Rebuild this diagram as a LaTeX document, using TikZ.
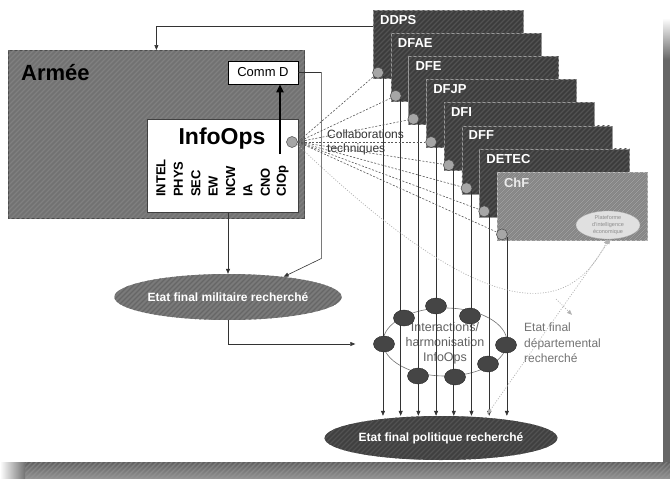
\documentclass[tikz,border=0pt]{standalone}
\usepackage{fontspec}
\setmainfont{Liberation Sans}
\usetikzlibrary{arrows.meta,calc,shapes.geometric,patterns}
\pgfdeclarepatternformonly{hatchx}{\pgfqpoint{-1pt}{-1pt}}{\pgfqpoint{6pt}{6pt}}{\pgfqpoint{5pt}{5pt}}{\pgfsetlinewidth{1.4pt}\pgfpathmoveto{\pgfqpoint{0pt}{0pt}}\pgfpathlineto{\pgfqpoint{5.1pt}{5.1pt}}\pgfusepath{stroke}}
\definecolor{armfill}{HTML}{727272}
\definecolor{deptfill}{HTML}{3C3C3C}
\definecolor{chffill}{HTML}{8A8A8A}
\definecolor{milfill}{HTML}{7A7A7A}
\definecolor{polfill}{HTML}{404040}
\definecolor{ringfill}{HTML}{454545}
\begin{document}
\begin{tikzpicture}[x=1pt,y=-1pt,
  hatch/.style={postaction={pattern=hatchx, pattern color=#1}},
  conn/.style={draw=black!80, line width=0.6pt},
  tip/.style={-{Triangle[length=5pt,width=4pt]}},
  dashln/.style={draw=black!65, line width=0.6pt, dash pattern=on 2pt off 1.6pt},
  lightdot/.style={draw=black!30, line width=0.7pt, dash pattern=on 1pt off 1.6pt},
  deptbox/.style={rectangle, draw=black!40, line width=0.7pt, fill=deptfill, hatch=black!68, minimum width=150pt, minimum height=68pt, anchor=north west, inner sep=0pt},
  deptlbl/.style={text=white, font=\bfseries\fontsize{13}{15}\selectfont, anchor=west, inner sep=0pt},
  port/.style={circle, draw=black!70, fill=black!35, line width=0.5pt, minimum size=11pt, inner sep=0pt},
  ringell/.style={ellipse, fill=ringfill, draw=black!85, line width=0.4pt, minimum width=21pt, minimum height=16pt, inner sep=0pt},
  vlbl/.style={rotate=90, anchor=west, inner sep=0pt, font=\bfseries\fontsize{13}{15}\selectfont},
  goal/.style={ellipse, minimum width=184pt, minimum height=46pt, inner sep=0pt, text=white, font=\bfseries\fontsize{12}{14}\selectfont}
]
\useasboundingbox (0,0) rectangle (670,479);
\fill[white] (0,0) rectangle (670,479);
% slide shadow
\shade[top color=white, bottom color=black!60] (663,18) rectangle (670,60);
\fill[black!60] (663,60) rectangle (670,462);
\shade[top color=black!62, bottom color=black!42] (25,462) rectangle (670,479);
\fill[pattern=hatchx, pattern color=black!40, opacity=0.5] (25,462) rectangle (670,479);
\shade[left color=white, right color=black!55] (0,462) rectangle (25,479);

% Armee block
\node[rectangle, draw=black!70, line width=0.8pt, fill=armfill, hatch=black!50, minimum width=296pt, minimum height=168pt, anchor=north west, inner sep=0pt] (armee) at (8,50) {};
\node[anchor=west, inner sep=0pt, font=\bfseries\fontsize{22}{24}\selectfont] (armlbl) at (21,73) {Armée};
\node[rectangle, draw=black, line width=0.7pt, fill=white, minimum width=70pt, minimum height=23pt, inner sep=0pt, font=\fontsize{13}{15}\selectfont] (commd) at (263,72.5) {Comm D};
\node[rectangle, draw=black!75, line width=0.8pt, fill=white, minimum width=151pt, minimum height=93pt, anchor=north west, inner sep=0pt] (infoops) at (147,119) {};
\node[inner sep=0pt, font=\bfseries\fontsize{23}{25}\selectfont] (iolbl) at (222,139) {InfoOps};
\foreach \t [count=\n from 0] in {INTEL,PHYS,SEC,EW,NCW,IA,CNO,CIOp}{
  \node[vlbl] (v\n) at (161+17.4*\n,197) {\t};
}
\node[port] (ic) at (292,142) {};
\coordinate (ta) at (280,154);
\draw[line width=2.2pt, -{Triangle[length=8pt,width=7pt]}] (ta) -- (ta |- commd.south);

% goal ellipses
\node[goal, fill=milfill, hatch=black!60] (mil) at (228,297) {Etat final militaire recherché};
\node[goal, fill=polfill, hatch=black!68, minimum height=44pt] (pol) at (441,438) {Etat final politique recherché};

% departments
\foreach \i/\t in {1/DDPS,2/DFAE,3/DFE,4/DFJP,5/DFI,6/DFF,7/DETEC}{
  \pgfmathsetmacro\L{373+17.7*(\i-1)}
  \pgfmathsetmacro\T{10+23.1*(\i-1)}
  \node[deptbox] (d\i) at (\L,\T) {};
  \node[deptlbl] (l\i) at ($(d\i.north west)+(7,10)$) {\t};
  \node[port] (c\i) at ($(d\i.south west)+(5,-6)$) {};
}
\node[deptbox, fill=chffill, hatch=black!38, draw=black!25] (d8) at (496.9,171.7) {};
\node[deptlbl, text=white!92!black] (l8) at ($(d8.north west)+(7,11)$) {ChF};
\node[port] (c8) at ($(d8.south west)+(5,-6)$) {};
\node[ellipse, fill=white!88!black, draw=white!70!black, line width=0.3pt, minimum width=64pt, minimum height=28pt, inner sep=0pt, align=center, text=white!55!black, font=\fontsize{5.5}{7}\selectfont] (pfe) at (608,225) {Plateforme\\d'intelligence\\économique};

% collaboration label
\node[anchor=west, align=left, inner sep=0pt, text=black!80, font=\fontsize{12}{14}\selectfont] (collab) at (327,142) {Collaborations\\techniques};

% ring of interactions
\node[ellipse, draw=black!55, line width=0.6pt, minimum width=124pt, minimum height=68pt, inner sep=0pt] (ring) at (445,342) {};
\node[align=center, inner sep=0pt, text=black!62, font=\fontsize{12.5}{15}\selectfont] (ringlbl) at (445,343) {Interactions/\\harmonisation\\InfoOps};

% vertical department lines
\foreach \i in {1,...,8}{
  \draw[conn, tip] (c\i.-30) -- (c\i.-30 |- pol.north);
}

\node[ringell] (r1) at (436,306) {};
\node[ringell] (r2) at (470,316) {};
\node[ringell] (r3) at (506,345) {};
\node[ringell] (r4) at (488,364) {};
\node[ringell] (r5) at (455,377) {};
\node[ringell] (r6) at (418,376) {};
\node[ringell] (r7) at (384,344) {};
\node[ringell] (r8) at (404,318) {};

% departmental final state label
\node[anchor=west, align=left, inner sep=0pt, text=black!55, font=\fontsize{12}{15.5}\selectfont] (dep) at (524,343) {Etat final\\départemental\\recherché};

% dashed technical collaborations
\foreach \i in {1,...,8}{
  \draw[dashln] (ic.east) -- (c\i);
}

% light dotted links
\draw[lightdot, -{Triangle[length=5pt,width=4pt]}] (ic.-25) .. controls (460,300) and (560,335) .. (pfe.south);
\coordinate (bend) at (556,299);
\draw[lightdot, -{Triangle[length=5pt,width=4pt]}] (bend) -- ($(dep.north west)+(48,-8)$);
\draw[lightdot, {Triangle[length=5pt,width=4pt]}-{Triangle[length=5pt,width=4pt]}, shorten >=4pt] (pfe.-80) -- (pol.25);

% connectors
\draw[conn, tip] (d1.north west) ++(0,16) -| (armee.north);
\draw[conn, tip] (commd.east) -- ++(23,0) -- ++(0,186) -- (mil.20);
\draw[conn, tip] (mil.north |- infoops.south) -- (mil.north);
\draw[conn, tip, shorten >=18pt] (mil.south) |- (r7.west);
\end{tikzpicture}
\end{document}
